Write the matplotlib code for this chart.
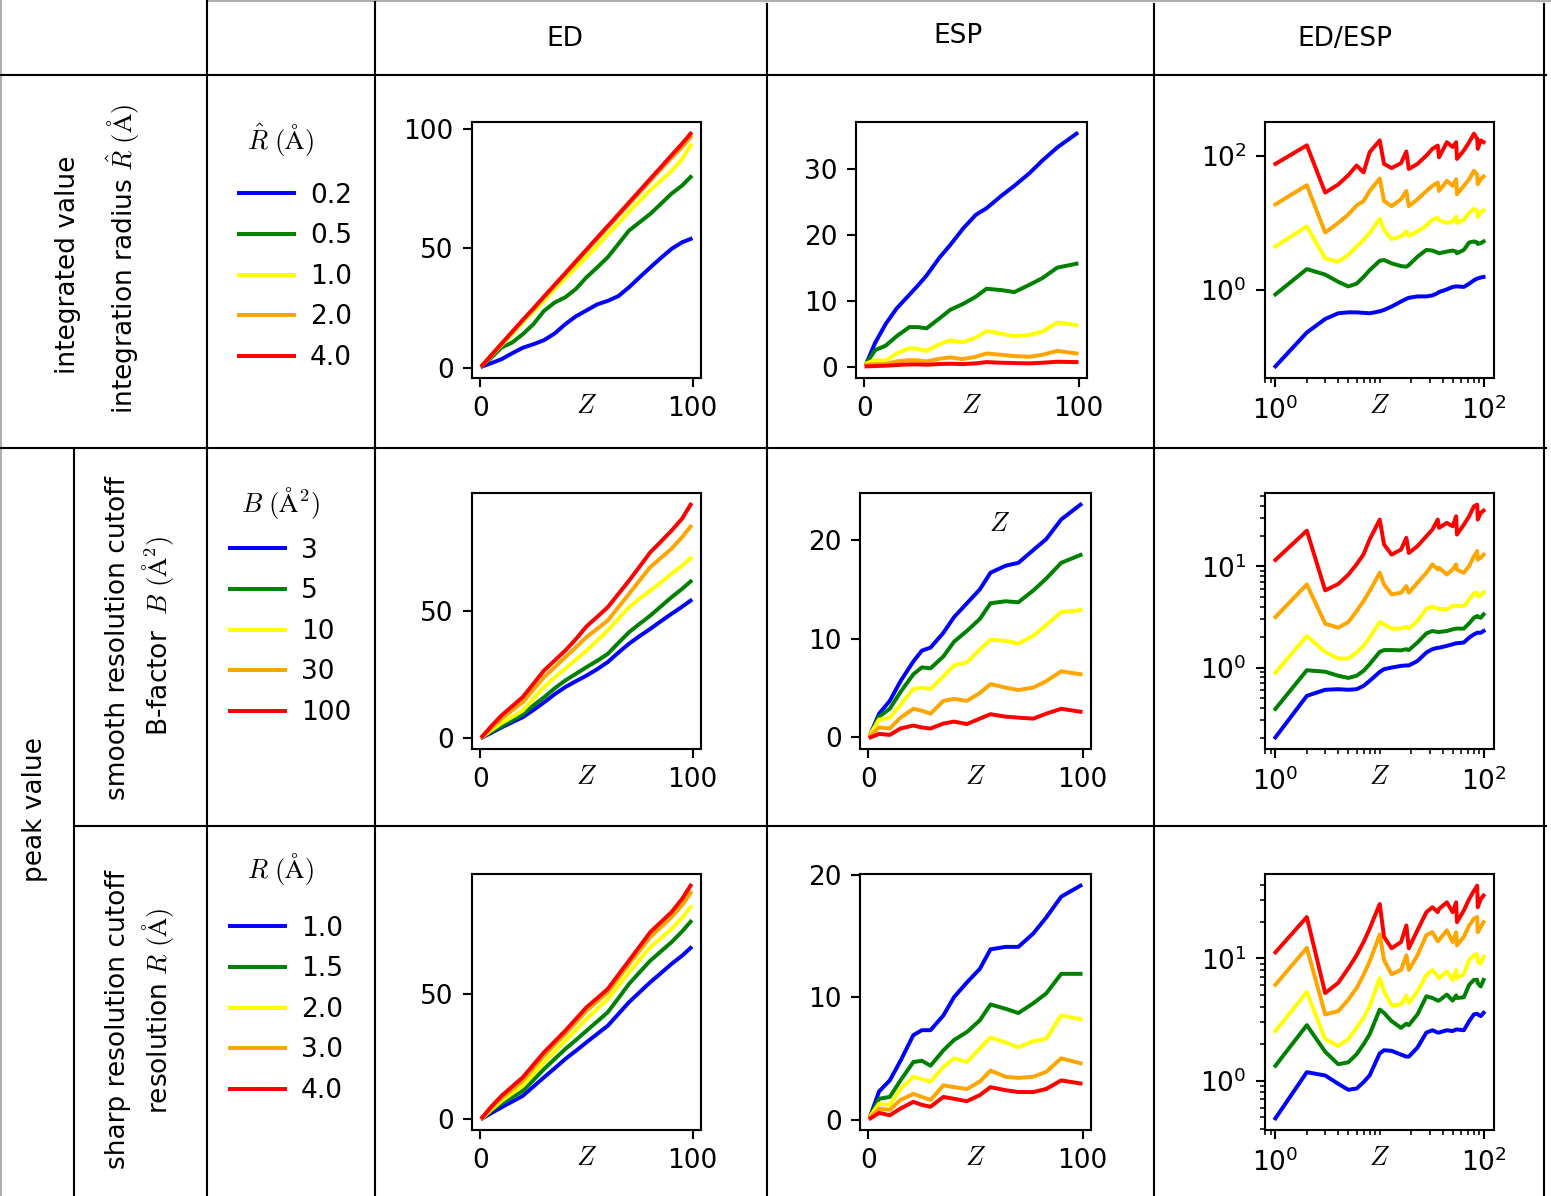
import matplotlib
matplotlib.use("Agg")
import matplotlib.pyplot as plt
from matplotlib.lines import Line2D
from matplotlib.ticker import (FixedLocator, NullLocator, NullFormatter,
                               LogFormatterSciNotation)

plt.rcParams['mathtext.fontset'] = 'cm'
plt.rcParams['font.family'] = ['DejaVu Sans']

W, H, DPI = 1551, 1196, 190

colors = ['blue', 'green', 'yellow', 'orange', 'red']

# ---------------------------------------------------------------- data
# atomic numbers at which the curves are tabulated
z_ed = [1, 5, 10, 15, 20, 25, 30, 35, 40, 45, 50, 55, 60, 65, 70, 75, 80, 85, 90, 95, 99]
z_esp = [1, 5, 10, 15, 21, 25, 29, 35, 40, 46, 52, 57, 64, 70, 77, 83, 90, 99]
z_ratio = [1, 2, 3, 4, 5, 6, 7, 8, 10, 11, 13, 16, 18, 19, 23, 28, 32, 36, 37,
           44, 50, 54, 55, 64, 72, 80, 86, 87, 93, 99]

# row 1: integrated value within radius R-hat
radius_labels = ['0.2', '0.5', '1.0', '2.0', '4.0']
ed_integrated = [
    [0.5, 1.8, 3.5, 6.0, 8.3, 9.8, 11.5, 14.3, 18.2, 21.5, 24.0, 26.5, 28.0, 30.0, 33.7, 37.9, 42.0, 46.0, 49.8, 52.6, 54.0],
    [0.8, 4.0, 8.4, 10.5, 14.0, 18.2, 23.8, 27.3, 29.5, 33.0, 37.9, 42.0, 46.3, 51.9, 57.5, 61.0, 64.5, 68.7, 73.0, 76.4, 80.0],
    [1.0, 4.8, 9.5, 14.0, 19.0, 23.5, 28.0, 33.0, 37.5, 42.0, 46.5, 51.0, 56.0, 60.5, 65.5, 70.0, 74.5, 78.5, 82.5, 87.5, 93.3],
    [1.0, 5.0, 9.9, 14.8, 19.8, 24.6, 29.5, 34.4, 39.3, 44.2, 49.1, 54.0, 58.9, 63.8, 68.6, 73.5, 78.4, 83.3, 88.0, 92.5, 96.8],
    [1.0, 5.0, 10.0, 15.0, 20.0, 24.8, 29.8, 34.7, 39.6, 44.6, 49.5, 54.5, 59.4, 64.3, 69.3, 74.2, 79.2, 84.1, 89.1, 94.0, 98.2],
]
esp_integrated = [
    [0.55, 3.6, 6.5, 8.8, 10.9, 12.3, 13.8, 16.5, 18.4, 20.9, 23.0, 24.0, 25.9, 27.4, 29.3, 31.2, 33.2, 35.3],
    [0.55, 2.5, 3.2, 4.6, 6.0, 6.0, 5.8, 7.3, 8.6, 9.5, 10.6, 11.8, 11.6, 11.3, 12.4, 13.4, 15.0, 15.6],
    [0.5, 1.0, 0.9, 2.0, 2.8, 2.7, 2.4, 3.4, 4.0, 3.7, 4.4, 5.4, 5.0, 4.6, 4.8, 5.3, 6.7, 6.3],
    [0.3, 0.4, 0.4, 0.8, 1.0, 0.95, 0.8, 1.2, 1.4, 1.15, 1.5, 2.0, 1.8, 1.6, 1.5, 1.8, 2.4, 2.0],
    [0.05, 0.1, 0.15, 0.25, 0.35, 0.35, 0.3, 0.4, 0.45, 0.4, 0.5, 0.7, 0.6, 0.55, 0.5, 0.6, 0.75, 0.7],
]
ratio_integrated = [
    [0.072, 0.23, 0.366, 0.445, 0.46, 0.46, 0.452, 0.445, 0.476, 0.499, 0.561, 0.667, 0.731, 0.757, 0.794,
     0.794, 0.822, 0.891, 0.923, 1.01, 1.10, 1.12, 1.12, 1.10, 1.23, 1.38, 1.47, 1.47, 1.52, 1.55],
    [0.85, 2.03, 1.68, 1.31, 1.12, 1.23, 1.55, 1.95, 2.70, 2.77, 2.47, 2.25, 2.20, 2.33, 3.10,
     3.92, 3.83, 3.57, 3.49, 3.70, 3.83, 3.70, 3.49, 3.92, 5.06, 5.24, 5.06, 4.82, 4.93, 5.24],
    [4.40, 8.81, 2.93, 2.61, 3.30, 4.40, 5.55, 6.98, 11.35, 7.83, 5.68, 6.22, 7.40, 6.37, 7.40,
     9.02, 11.09, 11.75, 10.84, 9.89, 10.47, 12.16, 9.89, 11.09, 14.0, 16.07, 14.8, 12.16, 14.0, 15.35],
    [18.7, 36.1, 7.1, 9.9, 13.2, 18.0, 20.9, 29.6, 45.5, 21.0, 17.6, 22.2, 29.6, 17.6, 22.2,
     29.6, 35.3, 39.6, 29.6, 42.0, 35.3, 44.5, 26.4, 35.3, 44.5, 59.4, 51.2, 37.4, 44.5, 48.8],
    [75, 142, 28, 37, 51, 71, 56, 112, 168, 75, 65, 77, 115, 63, 75,
     100, 126, 141, 94, 158, 134, 158, 89, 119, 158, 212, 178, 126, 168, 158],
]

# row 2: peak value, smooth resolution cutoff (B-factor)
bfactor_labels = ['3', '5', '10', '30', '100']
ed_smooth = [
    [0.3, 2.0, 4.2, 6.2, 8.2, 11.0, 14.0, 17.2, 20.0, 22.3, 24.5, 27.0, 29.8, 33.5, 37.0, 40.0, 42.8, 45.8, 48.7, 51.5, 53.9],
    [0.4, 2.4, 4.6, 7.0, 9.3, 12.8, 16.0, 19.5, 22.6, 25.2, 27.8, 30.3, 33.0, 37.3, 41.5, 44.8, 48.0, 51.6, 55.2, 58.5, 61.4],
    [0.5, 3.0, 5.9, 8.3, 10.8, 15.5, 20.0, 23.8, 27.2, 30.8, 34.3, 38.2, 42.2, 46.8, 51.3, 54.7, 57.8, 61.0, 64.4, 67.6, 70.5],
    [0.6, 3.8, 7.6, 10.9, 14.1, 19.0, 23.9, 27.8, 31.7, 35.6, 39.6, 42.8, 46.1, 51.3, 56.5, 61.8, 67.0, 70.6, 74.2, 78.8, 82.9],
    [0.7, 4.5, 8.9, 12.5, 16.1, 21.3, 26.5, 30.4, 34.3, 38.8, 43.8, 47.5, 51.3, 56.5, 61.7, 67.2, 72.8, 77.0, 81.3, 86.0, 91.5],
]
esp_smooth = [
    [0.35, 2.4, 3.7, 5.7, 7.7, 8.8, 9.1, 10.6, 12.2, 13.6, 15.0, 16.7, 17.4, 17.7, 19.0, 20.1, 22.1, 23.6],
    [0.35, 2.1, 2.9, 4.6, 6.4, 7.1, 7.0, 8.2, 9.7, 10.8, 12.0, 13.6, 13.8, 13.7, 14.9, 16.1, 17.7, 18.5],
    [0.35, 1.8, 2.0, 3.3, 4.9, 5.05, 4.9, 6.2, 7.3, 7.6, 8.9, 9.9, 9.8, 9.5, 10.3, 11.4, 12.7, 12.9],
    [0.2, 1.0, 0.9, 2.0, 2.9, 2.7, 2.4, 3.7, 3.9, 3.7, 4.5, 5.4, 5.05, 4.8, 5.05, 5.7, 6.7, 6.4],
    [0.0, 0.35, 0.25, 0.9, 1.2, 1.0, 0.9, 1.4, 1.6, 1.35, 1.9, 2.35, 2.1, 2.0, 1.9, 2.4, 2.9, 2.6],
]
ratio_smooth = [
    [0.204, 0.525, 0.603, 0.611, 0.603, 0.611, 0.659, 0.738, 0.906, 0.964, 1.0, 1.04, 1.05, 1.05, 1.16,
     1.41, 1.52, 1.57, 1.57, 1.64, 1.70, 1.74, 1.74, 1.77, 1.98, 2.13, 2.21, 2.21, 2.21, 2.30],
    [0.39, 0.94, 0.91, 0.83, 0.79, 0.83, 0.93, 1.08, 1.43, 1.49, 1.49, 1.48, 1.52, 1.49, 1.77,
     2.18, 2.30, 2.25, 2.25, 2.30, 2.39, 2.43, 2.43, 2.43, 2.74, 3.11, 3.24, 3.18, 3.11, 3.36],
    [0.89, 2.05, 1.43, 1.23, 1.23, 1.41, 1.64, 1.98, 2.82, 2.68, 2.43, 2.43, 2.54, 2.43, 2.89,
     3.82, 4.0, 3.82, 3.82, 3.77, 4.06, 4.12, 4.06, 4.06, 4.72, 5.42, 5.50, 5.09, 5.18, 5.58],
    [3.16, 6.64, 2.72, 2.48, 2.82, 3.62, 4.55, 5.71, 8.66, 6.64, 5.30, 5.50, 6.40, 5.50, 6.90,
     8.66, 10.5, 9.33, 9.70, 8.34, 9.33, 10.5, 9.33, 8.66, 10.1, 12.6, 14.2, 11.7, 12.2, 13.1],
    [11.6, 22.6, 5.8, 6.7, 8.3, 10.5, 13.2, 18.5, 29.1, 16.5, 13.1, 14.7, 19.2, 13.6, 15.9,
     19.9, 23.2, 29.1, 24.1, 27.0, 25.0, 31.4, 20.7, 25.9, 31.4, 39.4, 40.9, 29.1, 33.9, 35.7],
]

# row 3: peak value, sharp resolution cutoff
resolution_labels = ['1.0', '1.5', '2.0', '3.0', '4.0']
ed_sharp = [
    [0.3, 2.3, 4.7, 7.0, 9.3, 13.0, 16.7, 20.3, 24.0, 27.3, 30.7, 34.0, 37.3, 42.0, 46.7, 50.7, 54.7, 58.3, 62.0, 65.3, 68.4],
    [0.4, 3.2, 6.3, 8.8, 11.3, 15.6, 20.0, 24.0, 28.0, 31.6, 35.3, 39.0, 42.7, 48.3, 54.0, 58.7, 63.3, 67.0, 70.7, 75.0, 78.9],
    [0.5, 3.7, 7.3, 10.3, 13.3, 18.0, 22.7, 27.0, 31.3, 35.6, 40.0, 44.0, 48.0, 53.3, 58.7, 63.7, 68.7, 72.3, 76.0, 80.5, 84.7],
    [0.6, 4.3, 8.4, 11.8, 15.3, 20.3, 25.3, 29.7, 34.0, 38.6, 43.3, 47.0, 50.7, 56.3, 62.0, 67.3, 72.7, 76.7, 80.7, 85.5, 90.4],
    [0.7, 4.8, 9.3, 13.0, 16.7, 21.7, 26.7, 31.0, 35.3, 40.0, 44.7, 48.3, 52.0, 57.7, 63.3, 69.0, 74.7, 78.7, 82.7, 88.0, 93.3],
]
esp_sharp = [
    [0.35, 2.3, 3.2, 4.8, 6.9, 7.3, 7.3, 8.5, 10.0, 11.2, 12.3, 13.9, 14.1, 14.1, 15.2, 16.5, 18.2, 19.1],
    [0.35, 1.7, 1.85, 3.2, 4.7, 4.8, 4.4, 5.65, 6.5, 7.15, 8.1, 9.4, 9.05, 8.7, 9.5, 10.3, 11.9, 11.9],
    [0.3, 1.3, 1.2, 2.5, 3.5, 3.3, 3.1, 4.3, 5.0, 4.7, 5.8, 6.7, 6.3, 5.9, 6.4, 6.6, 8.5, 8.2],
    [0.2, 0.9, 0.8, 1.6, 2.1, 1.85, 1.6, 2.8, 2.65, 2.5, 3.1, 4.0, 3.5, 3.4, 3.5, 3.9, 5.0, 4.6],
    [0.1, 0.55, 0.35, 0.9, 1.45, 1.2, 1.05, 1.85, 1.7, 1.5, 2.0, 2.65, 2.4, 2.25, 2.25, 2.5, 3.2, 2.95],
]
ratio_sharp = [
    [0.49, 1.17, 1.10, 0.94, 0.84, 0.86, 0.97, 1.10, 1.67, 1.77, 1.75, 1.63, 1.57, 1.57, 1.86,
     2.47, 2.58, 2.47, 2.47, 2.58, 2.54, 2.62, 2.62, 2.58, 3.06, 3.48, 3.52, 3.48, 3.37, 3.58],
    [1.32, 2.84, 1.72, 1.36, 1.41, 1.64, 1.98, 2.39, 3.81, 3.58, 3.06, 2.70, 2.92, 2.84, 3.48,
     4.89, 4.74, 4.51, 4.51, 5.05, 4.51, 4.98, 4.74, 4.80, 6.08, 6.67, 6.67, 6.27, 5.89, 6.67],
    [2.54, 5.30, 2.18, 1.92, 2.18, 2.70, 3.27, 4.06, 6.89, 5.37, 4.13, 4.19, 4.98, 4.32, 5.37,
     7.33, 8.04, 7.10, 6.89, 7.80, 6.67, 8.04, 6.89, 7.41, 9.68, 10.6, 10.8, 9.40, 9.10, 10.3],
    [6.08, 12.2, 3.48, 3.70, 4.59, 5.71, 7.33, 9.40, 15.7, 9.68, 7.41, 8.04, 10.6, 8.04, 10.6,
     15.5, 16.4, 13.8, 14.1, 17.0, 13.6, 16.4, 12.8, 15.0, 18.6, 21.1, 21.8, 16.4, 18.1, 19.8],
    [11.2, 21.8, 5.2, 6.3, 8.3, 10.6, 13.6, 17.5, 27.9, 15.0, 12.1, 13.6, 18.6, 12.1, 17.0,
     23.9, 26.2, 23.9, 25.4, 28.8, 23.9, 28.8, 19.8, 24.7, 30.6, 35.8, 39.4, 26.2, 30.6, 32.7],
]

column_titles = ['ED', 'ESP', 'ED/ESP']
legend_titles = [r'$\hat{R}\ (\mathrm{\AA})$', r'$B\ (\mathrm{\AA}^2)$', r'$R\ (\mathrm{\AA})$']
legend_labels = [radius_labels, bfactor_labels, resolution_labels]
rows = [
    (ed_integrated, esp_integrated, ratio_integrated),
    (ed_smooth, esp_smooth, ratio_smooth),
    (ed_sharp, esp_sharp, ratio_sharp),
]
ed_yticks = [[0, 50, 100], [0, 50], [0, 50]]
esp_yticks = [[0, 10, 20, 30], [0, 10, 20], [0, 10, 20]]
ratio_yticks = [[1, 100], [1, 10], [1, 10]]

# ---------------------------------------------------------------- layout (pixels)
row_span = [(122, 378), (493, 749), (874, 1130)]
ed_span = (472, 701)
esp_span = [(856, 1087), (860, 1091), (860, 1091)]
ratio_span = (1265, 1494)
legend_anchor = [(228, 172), (219, 527), (219, 905)]
legend_title_pos = [(280, 140), (280, 503), (280, 869)]


def rect(x0, x1, y0, y1):
    return [x0 / W, 1 - y1 / H, (x1 - x0) / W, (y1 - y0) / H]


def fig_xy(px, py):
    return px / W, 1 - py / H


fig = plt.figure(figsize=(W / DPI, H / DPI), dpi=DPI)


def finish_linear(ax, yticks):
    ax.set_xticks([0, 100])
    ax.set_yticks(yticks)
    ax.set_xlabel('$Z$')
    ax.xaxis.set_label_coords(0.5, -0.108)
    ax.xaxis.label.set_va('center')


for r, (ed, esp, ratio) in enumerate(rows):
    y0, y1 = row_span[r]

    ax_ed = fig.add_axes(rect(*ed_span, y0, y1))
    handles = []
    for vals, c in zip(ed, colors):
        handles.append(ax_ed.plot(z_ed, vals, color=c)[0])
    finish_linear(ax_ed, ed_yticks[r])

    ax_esp = fig.add_axes(rect(*esp_span[r], y0, y1))
    for vals, c in zip(esp, colors):
        ax_esp.plot(z_esp, vals, color=c)
    finish_linear(ax_esp, esp_yticks[r])

    ax_rat = fig.add_axes(rect(*ratio_span, y0, y1))
    for vals, c in zip(ratio, colors):
        ax_rat.plot(z_ratio, vals, color=c)
    ax_rat.set_xscale('log')
    ax_rat.set_yscale('log')
    ax_rat.xaxis.set_major_locator(FixedLocator([1, 100]))
    ax_rat.xaxis.set_major_formatter(LogFormatterSciNotation())
    ax_rat.xaxis.set_minor_locator(FixedLocator(
        [0.8, 0.9] + [k for k in range(2, 10)] + [10] + [10 * k for k in range(2, 10)]))
    ax_rat.xaxis.set_minor_formatter(NullFormatter())
    ax_rat.yaxis.set_major_locator(FixedLocator(ratio_yticks[r]))
    ax_rat.yaxis.set_major_formatter(LogFormatterSciNotation())
    if r == 0:
        ax_rat.yaxis.set_minor_locator(NullLocator())
    else:
        ax_rat.yaxis.set_minor_locator(FixedLocator(
            [0.1 * k for k in range(2, 10)] + [k for k in range(2, 10)]
            + [10 * k for k in range(2, 10)]))
    ax_rat.yaxis.set_minor_formatter(NullFormatter())
    ax_rat.set_xlabel('$Z$')
    ax_rat.xaxis.set_label_coords(0.5, -0.108)
    ax_rat.xaxis.label.set_va('center')

    if r == 1:
        ax_esp.text(0.603, 0.879, '$Z$', transform=ax_esp.transAxes,
                    ha='center', va='center')

    fig.legend(handles, legend_labels[r],
               loc='upper left', bbox_to_anchor=fig_xy(*legend_anchor[r]),
               frameon=False, borderaxespad=0, handlelength=2.1,
               handletextpad=0.6, labelspacing=0.555)
    fig.text(*fig_xy(*legend_title_pos[r]), legend_titles[r],
             ha='center', va='center')

# ---------------------------------------------------------------- table
def hline(y, x0, x1, color='black', lw=0.8):
    fig.add_artist(Line2D([x0 / W, x1 / W], [1 - y / H] * 2, color=color, lw=lw,
                          transform=fig.transFigure))


def vline(x, y0, y1, color='black', lw=0.8):
    fig.add_artist(Line2D([x / W] * 2, [1 - y0 / H, 1 - y1 / H], color=color, lw=lw,
                          transform=fig.transFigure))


vline(1, 0, H, color='#b0b0b0')
hline(1, 207, W, color='#b0b0b0')
vline(207, 0, H)
vline(375, 2, H)
vline(767, 4, H)
vline(1154, 4, H)
vline(1544, 4, H)
vline(74, 448, H)
hline(75, 0, 1546)
hline(448, 0, 1546)
hline(826, 74, 1546)

for title, xc, yc in zip(column_titles, [565, 958, 1345], [39, 36, 39]):
    fig.text(*fig_xy(xc, yc), title, ha='center', va='center')

row_texts = [
    ('integrated value', 68, 265),
    (r'integration radius $\hat{R}\ (\mathrm{\AA})$', 123, 259),
    ('peak value', 35, 810),
    ('smooth resolution cutoff', 118, 638),
    (r'B-factor  $B\ (\mathrm{\AA}^2)$', 158, 636),
    ('sharp resolution cutoff', 118, 1019),
    (r'resolution $R\ (\mathrm{\AA})$', 158, 1011),
]
for txt, xc, yc in row_texts:
    fig.text(*fig_xy(xc, yc), txt, rotation=90, ha='center', va='center')

fig.savefig('out.png', dpi=DPI)
